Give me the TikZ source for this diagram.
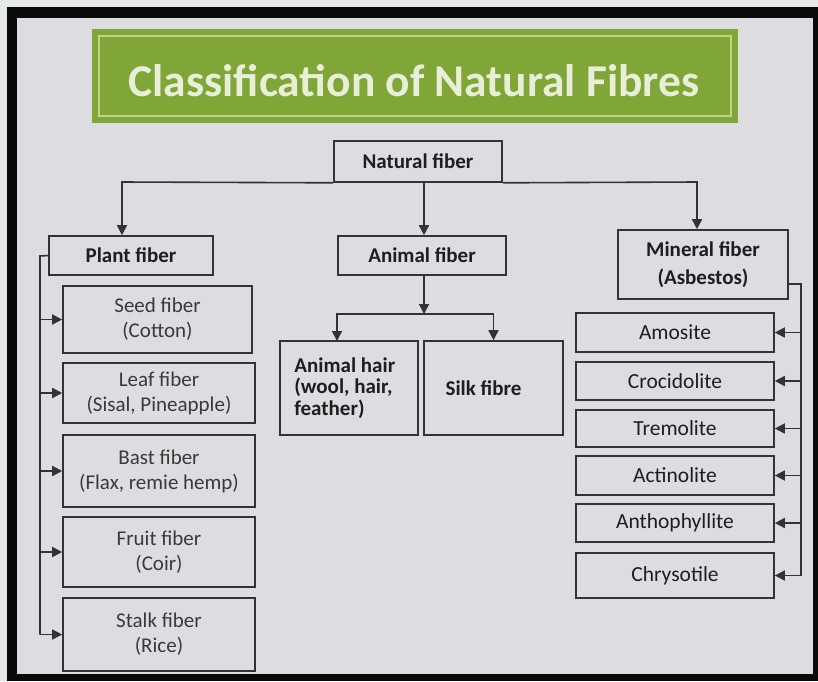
\documentclass[tikz,border=0pt]{standalone}
\usepackage{fontspec}
\setmainfont{Carlito}
\usetikzlibrary{arrows.meta}
\definecolor{bgc}{HTML}{DCDCE1}
\definecolor{outerc}{HTML}{E4E9E6}
\definecolor{framec}{HTML}{0A0A0A}
\definecolor{greenc}{HTML}{80A638}
\definecolor{greenline}{HTML}{C2D38E}
\definecolor{titlec}{HTML}{E9EED8}
\definecolor{lc}{HTML}{333333}
\definecolor{tc}{HTML}{1E1E1E}
\definecolor{tc2}{HTML}{3A3A3A}
\tikzset{
  fbox/.style={draw=lc, line width=1.6pt, inner sep=0pt, align=center, text=tc2,
    font=\fontsize{21}{25}\selectfont},
  hbox/.style={fbox, text=tc, font=\fontsize{21}{28}\bfseries\selectfont},
  mbox/.style={fbox, text=tc, minimum width=198pt, font=\fontsize{21.5}{25}\selectfont},
  pbox/.style={fbox, minimum width=192pt},
  conn/.style={draw=lc, line width=1.6pt},
  arr/.style={conn, -{Triangle[length=10pt,width=10pt]}}
}
\begin{document}
\begin{tikzpicture}[x=1pt,y=-1pt]
% background and frame
\fill[outerc] (0,0) rectangle (818,681);
\fill[framec] (7,7) rectangle (818,681);
\fill[bgc] (17,18) rectangle (813,674);
\useasboundingbox (0,0) rectangle (818,681);
% title banner
\node[fill=greenc, minimum width=646pt, minimum height=94pt, inner sep=0pt] (banner) at (415,76) {};
\node[draw=greenline, line width=1.6pt, minimum width=632pt, minimum height=80pt, inner sep=0pt] (bannerin) at (banner.center) {};
\node[text=titlec, font=\fontsize{45.5}{48}\bfseries\selectfont] (title) at (414,81) {Classification of Natural Fibres};
% top level
\node[hbox, minimum width=168pt, minimum height=41pt] (nat) at (418,161.5) {Natural fiber};
\node[hbox, minimum width=164pt, minimum height=39pt] (plant) at (131,255.5) {Plant fiber};
\node[hbox, minimum width=168pt, minimum height=39pt] (animal) at (422,255.5) {Animal fiber};
\node[hbox, minimum width=170pt, minimum height=69pt] (mineral) at (703,264.5) {Mineral fiber\\(Asbestos)};
% animal children
\node[hbox, minimum width=138pt, minimum height=94pt] (hair) at (349,388) {};
\node[text=tc, anchor=west, align=left, inner sep=0pt,
  font=\fontsize{21}{21.5}\bfseries\selectfont] (hairtxt) at ([xshift=15pt]hair.west) {Animal hair\\(wool, hair,\\feather)};
\node[hbox, minimum width=139pt, minimum height=94pt] (silk) at (493.5,388) {Silk fibre\hspace*{20pt}};
% plant children
\node[pbox, minimum width=189pt, minimum height=67pt] (seed) at (157.5,319.5) {Seed fiber\\(Cotton)};
\node[pbox, minimum height=60pt] (leaf) at (159,393) {Leaf fiber\\(Sisal, Pineapple)};
\node[pbox, minimum height=72pt] (bast) at (159,471) {Bast fiber\\(Flax, remie hemp)};
\node[pbox, minimum height=70pt] (fruit) at (159,552) {Fruit fiber\\(Coir)};
\node[pbox, minimum height=73pt] (stalk) at (159,634.5) {Stalk fiber\\(Rice)};
% mineral children
\node[mbox, minimum height=39pt] (amo) at (675,332.5) {Amosite};
\node[mbox, minimum height=38pt] (cro) at (675,381) {Crocidolite};
\node[mbox, minimum height=37pt] (tre) at (675,428.5) {Tremolite};
\node[mbox, minimum height=39pt] (act) at (675,475.5) {Actinolite};
\node[mbox, minimum height=38pt] (ant) at (675,523) {Anthophyllite};
\node[mbox, minimum height=45pt] (chr) at (675,575.5) {Chrysotile};
% junction coordinates
\coordinate (pj) at (122,182);
\coordinate (aj0) at (424,182);
\coordinate (mj) at (697,182);
\coordinate (aj) at (424,314);
\coordinate (hj) at (337,341);
\coordinate (pb) at (40,256);
\coordinate (mb) at (801,284);
% connectors from natural fiber
\draw[arr] (nat.south west) -- (pj) -- (pj |- plant.north);
\draw[arr] (nat.south east) -- (mj) -- (mj |- mineral.north);
\draw[arr] (aj0) -- (aj0 |- animal.north);
% animal branch
\draw[arr] (aj |- animal.south) -- (aj);
\draw[arr] (aj) -| (hj);
\draw[arr] (aj) -| (silk.north);
% plant bus
\draw[conn] (plant.west) -- (pb) -- (pb |- stalk.west);
\foreach \n in {seed,leaf,bast,fruit,stalk}{
  \draw[arr] (pb |- \n.west) -- (\n.west);
}
% mineral bus
\draw[conn] (mineral.east |- mb) -- (mb) -- (mb |- chr.east);
\foreach \n in {amo,cro,tre,act,ant,chr}{
  \draw[arr] (mb |- \n.east) -- (\n.east);
}
\end{tikzpicture}
\end{document}
